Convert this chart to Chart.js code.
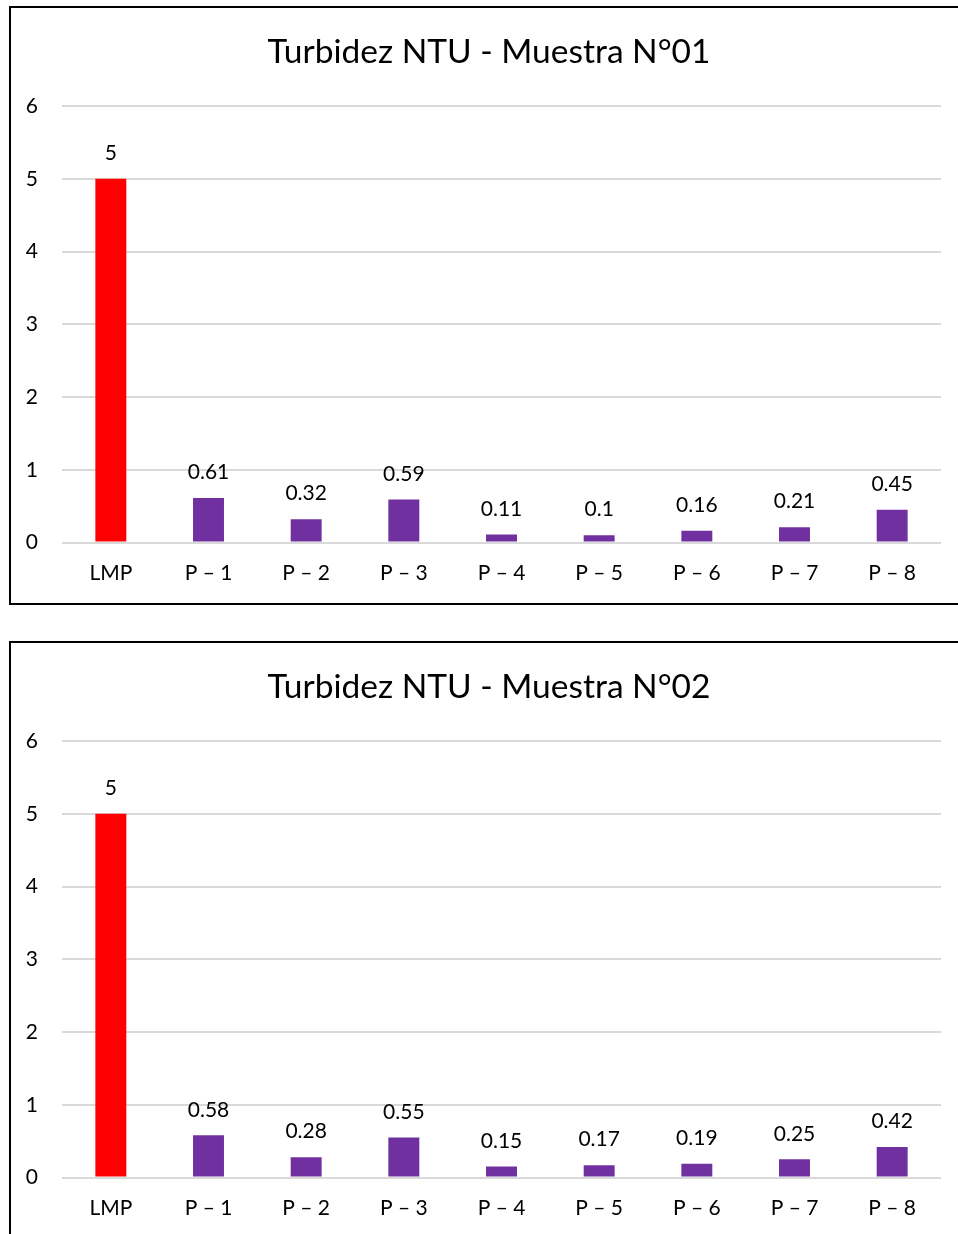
<!DOCTYPE html>
<html>
<head>
<meta charset="utf-8">
<script src="https://cdn.jsdelivr.net/npm/chart.js@4"></script>
<style>
  html, body { margin: 0; padding: 0; background: #fff; }
  body { width: 958px; height: 1234px; overflow: hidden; position: relative; }
  .box { position: absolute; left: 9px; width: 951px; height: 595px; border: 2px solid #000; background: #fff; }
  .box canvas { display: block; }
</style>
</head>
<body>
<div class="box" style="top:6px"><canvas id="c1" width="951" height="595"></canvas></div>
<div class="box" style="top:641px"><canvas id="c2" width="951" height="595"></canvas></div>
<script>
// Sampling points and the permissible limit (LMP)
const categories = ['LMP', 'P – 1', 'P – 2', 'P – 3', 'P – 4', 'P – 5', 'P – 6', 'P – 7', 'P – 8'];
// Turbidity (NTU), sample 01
const muestra01 = [5, 0.61, 0.32, 0.59, 0.11, 0.1, 0.16, 0.21, 0.45];
// Turbidity (NTU), sample 02
const muestra02 = [5, 0.58, 0.28, 0.55, 0.15, 0.17, 0.19, 0.25, 0.42];
const titles = ['Turbidez NTU - Muestra N°01', 'Turbidez NTU - Muestra N°02'];
const yTicks = { min: 0, max: 6, step: 1 };

const FONT = 'Lato, "Open Sans", sans-serif';
const LIMIT_COLOR = '#FF0000';
const POINT_COLOR = '#7030A0';

// Writes each bar's value above it
const valueLabels = {
  id: 'valueLabels',
  afterDatasetsDraw(chart) {
    const ctx = chart.ctx;
    ctx.save();
    ctx.font = '21px ' + FONT;
    ctx.fillStyle = '#000';
    ctx.textAlign = 'center';
    ctx.textBaseline = 'middle';
    chart.data.datasets.forEach((ds, di) => {
      chart.getDatasetMeta(di).data.forEach((bar, i) => {
        ctx.fillText(String(ds.data[i]), bar.x, bar.y - 25.5);
      });
    });
    ctx.restore();
  }
};

// Chart heading, centred over the frame
const heading = {
  id: 'heading',
  afterDraw(chart, args, opts) {
    const ctx = chart.ctx;
    ctx.save();
    ctx.font = '33.5px ' + FONT;
    ctx.fillStyle = '#000';
    ctx.textAlign = 'center';
    ctx.textBaseline = 'middle';
    ctx.fillText(opts.text, opts.x, opts.y);
    ctx.restore();
  }
};

function makeChart(id, title, values) {
  new Chart(document.getElementById(id), {
    type: 'bar',
    data: {
      labels: categories,
      datasets: [{
        data: values,
        backgroundColor: categories.map(c => c === 'LMP' ? LIMIT_COLOR : POINT_COLOR),
        borderWidth: 0,
        barPercentage: 0.317,
        categoryPercentage: 1
      }]
    },
    options: {
      responsive: false,
      animation: false,
      layout: { padding: { left: 0, right: 21, top: 98, bottom: 17.3 } },
      plugins: {
        legend: { display: false },
        tooltip: { enabled: false },
        title: { display: false },
        heading: { text: title, x: 478, y: 44 }
      },
      scales: {
        x: {
          afterFit(scale) { scale.height = 43.2; },
          grid: { display: false, drawTicks: false },
          border: { display: false },
          ticks: { color: '#000', font: { family: FONT, size: 21 }, padding: 18, maxRotation: 0 }
        },
        y: {
          min: yTicks.min,
          max: yTicks.max,
          afterFit(scale) { scale.width = 51; },
          grid: { color: '#D9D9D9', lineWidth: 2, drawTicks: false },
          border: { display: false },
          ticks: { stepSize: yTicks.step, color: '#000', font: { family: FONT, size: 21 }, padding: 24 }
        }
      }
    },
    plugins: [valueLabels, heading]
  });
}

makeChart('c1', titles[0], muestra01);
makeChart('c2', titles[1], muestra02);
</script>
</body>
</html>
